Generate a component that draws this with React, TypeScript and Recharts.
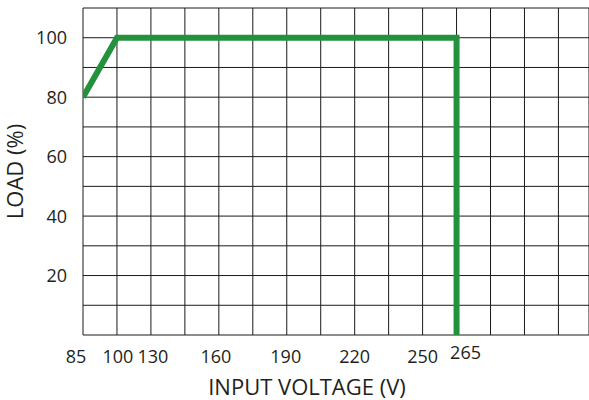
import { LineChart, Line, XAxis, YAxis, CartesianGrid, Label } from 'recharts';

// axis labels on the voltage axis and the grid column each one sits on
const voltageTicks = [85, 100, 130, 160, 190, 220, 250, 265];
const voltageGridPos = [0, 1, 2, 4, 6, 8, 10, 11];

// derating curve
const curveVoltage = [85, 100, 265, 265];
const curveLoad = [80, 100, 100, 0];

const loadGridTicks = [0, 10, 20, 30, 40, 50, 60, 70, 80, 90, 100, 110];
const loadLabels = [20, 40, 60, 80, 100];
const gridColumns = [0, 1, 2, 3, 4, 5, 6, 7, 8, 9, 10, 11, 12, 13, 14];

const chartData = curveVoltage.map((v, i) => ({
  pos: voltageGridPos[voltageTicks.indexOf(v)],
  voltage: v,
  load: curveLoad[i],
}));

const textColor = '#231f20';

// small horizontal nudges so the labels sit like the printed ones
const xNudge: any = { 85: -7, 100: 1, 130: 2, 160: -3, 190: -1, 265: 9 };

const XTick = (props: any) => {
  const { x, y, payload } = props;
  const i = voltageGridPos.indexOf(payload.value);
  if (i < 0) return <g />;
  const v = voltageTicks[i];
  return (
    <text x={x + (xNudge[v] || 0)} y={y + 20 - (v === 265 ? 4 : 0)} textAnchor="middle" fill={textColor} fontSize={18}>
      {v}
    </text>
  );
};

const YTick = (props: any) => {
  const { x, y, payload } = props;
  if (!loadLabels.includes(payload.value)) return <g />;
  return (
    <text x={x} y={y} dy="0.36em" textAnchor="end" fill={textColor} fontSize={18}>
      {payload.value}
    </text>
  );
};

const App = () => {
  return (
    <div style={styles.page}>
      <LineChart width={589} height={400} data={chartData} margin={{ top: 8, right: 0, bottom: 0, left: 0 }}>
        <CartesianGrid stroke="#1a1a1a" strokeWidth={1} />
        <XAxis
          dataKey="pos"
          type="number"
          domain={[0, 14.9]}
          ticks={gridColumns}
          allowDataOverflow
          axisLine={false}
          tickLine={false}
          height={65}
          tick={<XTick />}
          interval={0}
        >
          <Label
            content={(p: any) => (
              <text x={p.viewBox.x + 224} y={p.viewBox.y + 60} textAnchor="middle" fill={textColor} fontSize={22}>
                INPUT VOLTAGE (V)
              </text>
            )}
          />
        </XAxis>
        <YAxis
          type="number"
          domain={[0, 110]}
          ticks={loadGridTicks}
          axisLine={false}
          tickLine={false}
          width={83}
          tickMargin={10}
          tick={<YTick />}
          interval={0}
        >
          <Label
            content={(p: any) => {
              const cx = p.viewBox.x + 17;
              const cy = p.viewBox.y + p.viewBox.height / 2;
              return (
                <text x={cx} y={cy} transform={`rotate(-90, ${cx}, ${cy})`} textAnchor="middle" dominantBaseline="middle" fill={textColor} fontSize={22}>
                  LOAD (%)
                </text>
              );
            }}
          />
        </YAxis>
        <Line
          type="linear"
          dataKey="load"
          stroke="#24923c"
          strokeWidth={6}
          strokeLinejoin="miter"
          strokeLinecap="butt"
          dot={false}
          activeDot={false}
          isAnimationActive={false}
        />
      </LineChart>
    </div>
  );
};

const styles: any = {
  page: { position: 'absolute', left: 0, top: 0, width: 589, height: 400, background: '#fff', fontFamily: '"Open Sans", sans-serif' },
};

export default App;
